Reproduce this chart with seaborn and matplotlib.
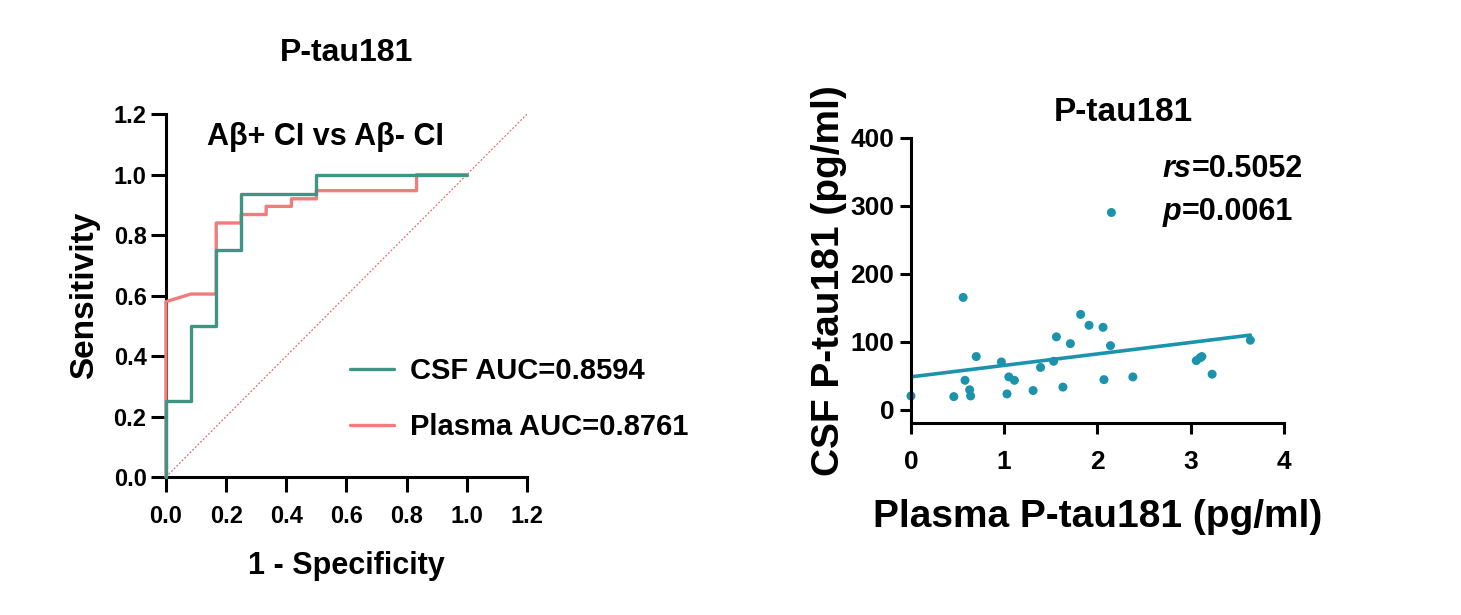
import pandas as pd
import matplotlib
matplotlib.use("Agg")
import matplotlib.pyplot as plt
import seaborn as sns

# ROC curve steps (1 - specificity, sensitivity)
csf_fpr = [0.0, 0.0, 0.083, 0.083, 0.167, 0.167, 0.25, 0.25, 0.5, 0.5, 1.0]
csf_tpr = [0.0, 0.25, 0.25, 0.5, 0.5, 0.75, 0.75, 0.9375, 0.9375, 1.0, 1.0]
plasma_fpr = [0.0, 0.0, 0.083, 0.167, 0.167, 0.25, 0.25, 0.333, 0.333,
              0.417, 0.417, 0.5, 0.5, 0.833, 0.833, 1.0]
plasma_tpr = [0.0, 0.58, 0.605, 0.605, 0.84, 0.84, 0.868, 0.868, 0.895,
              0.895, 0.92, 0.92, 0.947, 0.947, 1.0, 1.0]
ref_line = [0.0, 1.2]

# Scatter: plasma vs CSF P-tau181 (pg/ml)
plasma_ptau = [0.0, 0.46, 0.56, 0.58, 0.63, 0.64, 0.70, 0.97, 1.03, 1.05,
               1.11, 1.31, 1.39, 1.53, 1.56, 1.63, 1.71, 1.82, 1.91, 2.06,
               2.07, 2.14, 2.15, 2.38, 3.06, 3.10, 3.12, 3.23, 3.64]
csf_ptau = [20, 19, 165, 43, 29, 20, 78, 70, 23, 48,
            43, 28, 62, 71, 107, 33, 97, 140, 124, 121,
            44, 94, 290, 48, 72, 76, 78, 52, 102]

green = "#3d9585"
red = "#f27b7b"
teal = "#1b93ac"

sns.set_style("ticks")
plt.rcParams["font.family"] = ["Liberation Sans", "DejaVu Sans"]
plt.rcParams["font.weight"] = "bold"
plt.rcParams["axes.labelweight"] = "bold"
plt.rcParams["axes.titleweight"] = "bold"
plt.rcParams["text.color"] = "black"
plt.rcParams["axes.labelcolor"] = "black"
plt.rcParams["xtick.color"] = "black"
plt.rcParams["ytick.color"] = "black"

fig = plt.figure(figsize=(14.61, 6.15), dpi=100)

# ---------- left: ROC ----------
ax1 = fig.add_axes([0.1136, 0.2244, 0.2471, 0.590])
roc_csf = pd.DataFrame({"fpr": csf_fpr, "tpr": csf_tpr})
roc_plasma = pd.DataFrame({"fpr": plasma_fpr, "tpr": plasma_tpr})
ref = pd.DataFrame({"x": ref_line, "y": ref_line})

sns.lineplot(data=ref, x="x", y="y", ax=ax1, color="#e06a7a", lw=0.9,
             linestyle=(0, (1.5, 1.5)), sort=False, estimator=None)
sns.lineplot(data=roc_plasma, x="fpr", y="tpr", ax=ax1, color=red, lw=2.4,
             sort=False, estimator=None, label="Plasma AUC=0.8761",
             zorder=3, clip_on=False)
sns.lineplot(data=roc_csf, x="fpr", y="tpr", ax=ax1, color=green, lw=2.4,
             sort=False, estimator=None, label="CSF AUC=0.8594",
             zorder=4, clip_on=False)

ax1.set_xlim(0, 1.2)
ax1.set_ylim(0, 1.2)
ax1.set_xticks([0.0, 0.2, 0.4, 0.6, 0.8, 1.0, 1.2])
ax1.set_yticks([0.0, 0.2, 0.4, 0.6, 0.8, 1.0, 1.2])
ax1.xaxis.set_major_formatter(matplotlib.ticker.FormatStrFormatter("%.1f"))
ax1.yaxis.set_major_formatter(matplotlib.ticker.FormatStrFormatter("%.1f"))
ax1.set_xlabel("1 - Specificity", fontsize=22, labelpad=17)
ax1.set_ylabel("Sensitivity", fontsize=24, labelpad=10)
ax1.set_title("P-tau181", fontsize=23, pad=38)
ax1.text(0.443, 0.937, "Aβ+ CI vs Aβ- CI", transform=ax1.transAxes,
         ha="center", va="center", fontsize=22, fontweight="bold")

handles, labels = ax1.get_legend_handles_labels()
ax1.legend(handles[::-1], labels[::-1], loc="lower left",
           bbox_to_anchor=(0.51, 0.1), frameon=False, fontsize=21,
           borderpad=0, borderaxespad=0,
           handlelength=1.5, handletextpad=0.55, labelspacing=0.95)

# ---------- right: correlation ----------
ax2 = fig.add_axes([0.6235, 0.312, 0.2553, 0.464])
pts = pd.DataFrame({"plasma": plasma_ptau, "csf": csf_ptau})
sns.regplot(data=pts, x="plasma", y="csf", ax=ax2, ci=None, color=teal,
            scatter_kws={"s": 42, "edgecolor": "none", "alpha": 1,
                         "clip_on": False},
            line_kws={"lw": 2.6}, truncate=True)
ax2.set_xlim(0, 4)
ax2.set_ylim(-20, 400)
ax2.set_xticks([0, 1, 2, 3, 4])
ax2.set_yticks([0, 100, 200, 300, 400])
ax2.set_xlabel("Plasma P-tau181 (pg/ml)", fontsize=28, labelpad=18)
ax2.set_ylabel("CSF P-tau181 (pg/ml)", fontsize=28, labelpad=2)
ax2.set_title("P-tau181", fontsize=24, pad=12, x=0.57)

t1 = ax2.text(0.675, 0.89, "rs", transform=ax2.transAxes, fontsize=22,
              fontstyle="italic", fontweight="bold", va="center")
ax2.annotate("=0.5052", xy=(1, 0), xycoords=t1, va="bottom",
             fontsize=22, fontweight="bold")
t2 = ax2.text(0.675, 0.74, "p", transform=ax2.transAxes, fontsize=22,
              fontstyle="italic", fontweight="bold", va="center")
ax2.annotate("=0.0061", xy=(1, 0), xycoords=t2, va="bottom",
             fontsize=22, fontweight="bold")

for ax in (ax1, ax2):
    sns.despine(ax=ax)
    for s in ("left", "bottom"):
        ax.spines[s].set_linewidth(2.2)
        ax.spines[s].set_color("black")
    for lab in ax.get_xticklabels() + ax.get_yticklabels():
        lab.set_fontweight("bold")
ax1.tick_params(width=2.2, length=11, labelsize=17, pad=3)
ax1.tick_params(axis="x", pad=9)
ax2.tick_params(width=2.2, length=8, labelsize=19, pad=4)
ax2.tick_params(axis="x", pad=11)

fig.savefig("out.png", dpi=100)
